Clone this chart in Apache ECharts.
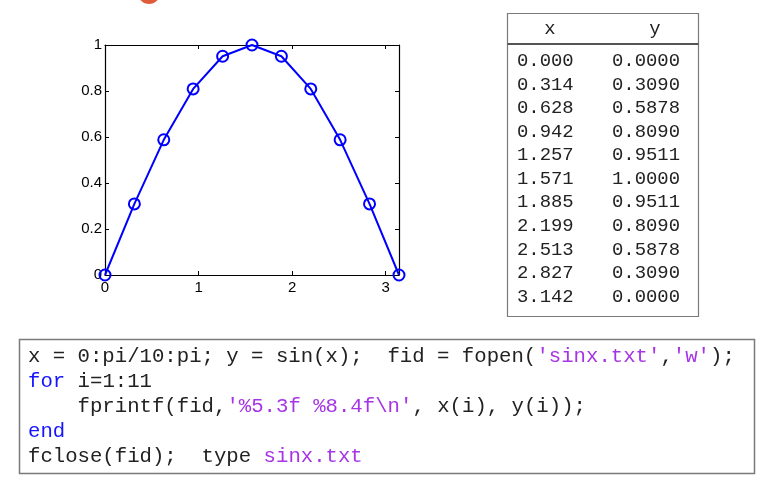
<!DOCTYPE html>
<html>
<head>
<meta charset="utf-8">
<script src="https://cdn.jsdelivr.net/npm/echarts@6/dist/echarts.min.js"></script>
<style>
html,body{margin:0;padding:0;background:#fff;}
#c{width:762px;height:480px;}
</style>
</head>
<body>
<div id="c"></div>
<script>
// ---- data ----
const xs = [0.000, 0.314, 0.628, 0.942, 1.257, 1.571, 1.885, 2.199, 2.513, 2.827, 3.142];
const ys = [0.0000, 0.3090, 0.5878, 0.8090, 0.9511, 1.0000, 0.9511, 0.8090, 0.5878, 0.3090, 0.0000];
const xTickLabels = [0, 1, 2, 3];
const yTickLabels = [0, 0.2, 0.4, 0.6, 0.8, 1];
const tableHeader = ['x', 'y'];
const codeLines = [
  [['x = 0:pi/10:pi; y = sin(x);  fid = fopen(', 'n'], ["'sinx.txt'", 's'], [',', 'n'], ["'w'", 's'], [');', 'n']],
  [['for', 'k'], [' i=1:11', 'n']],
  [['    fprintf(fid,', 'n'], ["'%5.3f %8.4f\\n'", 's'], [', x(i), y(i));', 'n']],
  [['end', 'k']],
  [['fclose(fid);  type ', 'n'], ['sinx.txt', 's']]
];

// ---- rendering ----
const chart = echarts.init(document.getElementById('c'), null, {renderer: 'canvas'});
const mono = '"Liberation Mono", "DejaVu Sans Mono", monospace';
const sans = '"Liberation Sans", Arial, Helvetica, sans-serif';
const codeColors = {n: '#222', k: '#1414ff', s: '#a635e6'};

const graphics = [];
// orange blob at top
graphics.push({type: 'circle', shape: {cx: 149, cy: -7, r: 11}, style: {fill: '#df5b3c'}, z: 10});

// table
graphics.push({type: 'rect', shape: {x: 507.5, y: 13.5, width: 191, height: 303}, style: {fill: '#fff', stroke: '#7a7a7a', lineWidth: 1.2}, z: 10});
graphics.push({type: 'line', shape: {x1: 507.5, y1: 44, x2: 698.5, y2: 44}, style: {stroke: '#555', lineWidth: 2}, z: 11});
const colX = [517, 612];
graphics.push({type: 'text', x: 550, y: 29, style: {text: tableHeader[0], font: '18.9px ' + mono, fill: '#222', textAlign: 'center', textVerticalAlign: 'middle'}, z: 11});
graphics.push({type: 'text', x: 655, y: 29, style: {text: tableHeader[1], font: '18.9px ' + mono, fill: '#222', textAlign: 'center', textVerticalAlign: 'middle'}, z: 11});
xs.forEach((x, i) => {
  const yy = 61 + i * 23.57;
  graphics.push({type: 'text', x: colX[0], y: yy, style: {text: x.toFixed(3), font: '18.9px ' + mono, fill: '#222', textAlign: 'left', textVerticalAlign: 'middle'}, z: 11});
  graphics.push({type: 'text', x: colX[1], y: yy, style: {text: ys[i].toFixed(4), font: '18.9px ' + mono, fill: '#222', textAlign: 'left', textVerticalAlign: 'middle'}, z: 11});
});

// code box
graphics.push({type: 'rect', shape: {x: 19.5, y: 339.5, width: 735, height: 134}, style: {fill: '#fff', stroke: '#7a7a7a', lineWidth: 1.5}, z: 10});
const charW = 12.4;
codeLines.forEach((segs, li) => {
  let col = 0;
  const yy = 357 + li * 25;
  segs.forEach(([t, kind]) => {
    graphics.push({type: 'text', x: 28 + col * charW, y: yy, style: {text: t, font: '20.67px ' + mono, fill: codeColors[kind], textAlign: 'left', textVerticalAlign: 'middle'}, z: 11});
    col += t.length;
  });
});

const axisCommon = {
  type: 'value',
  axisLine: {show: true, onZero: false, lineStyle: {color: '#000', width: 1.2}},
  axisTick: {show: true, inside: true, length: 4, lineStyle: {color: '#000', width: 1}},
  splitLine: {show: false}
};

chart.setOption({
  animation: false,
  backgroundColor: '#fff',
  grid: {left: 105, right: 363, top: 45, bottom: 205, containLabel: false},
  xAxis: [
    Object.assign({}, axisCommon, {
      position: 'bottom', min: 0, max: 3.142, interval: 1,
      axisLabel: {color: '#000', fontSize: 15, fontFamily: sans, margin: 5,
        formatter: v => xTickLabels.includes(v) ? String(v) : ''}
    }),
    Object.assign({}, axisCommon, {
      position: 'top', min: 0, max: 3.142, interval: 1, axisLabel: {show: false}
    })
  ],
  yAxis: [
    Object.assign({}, axisCommon, {
      position: 'left', min: 0, max: 1, interval: 0.2,
      axisLabel: {color: '#000', fontSize: 15, fontFamily: sans, margin: 3,
        formatter: v => {
          const m = yTickLabels.find(t => Math.abs(t - v) < 1e-9);
          return m === undefined ? '' : String(m);
        }}
    }),
    Object.assign({}, axisCommon, {
      position: 'right', min: 0, max: 1, interval: 0.2, axisLabel: {show: false}
    })
  ],
  series: [{
    type: 'line',
    xAxisIndex: 0, yAxisIndex: 0,
    data: xs.map((x, i) => [x, ys[i]]),
    symbol: 'circle',
    symbolSize: 11,
    showAllSymbol: true,
    clip: false,
    lineStyle: {color: '#0000ff', width: 2},
    itemStyle: {color: 'rgba(0,0,0,0)', borderColor: '#0000ff', borderWidth: 2},
    emphasis: {disabled: true},
    z: 5
  }],
  graphic: graphics
});
</script>
</body>
</html>
